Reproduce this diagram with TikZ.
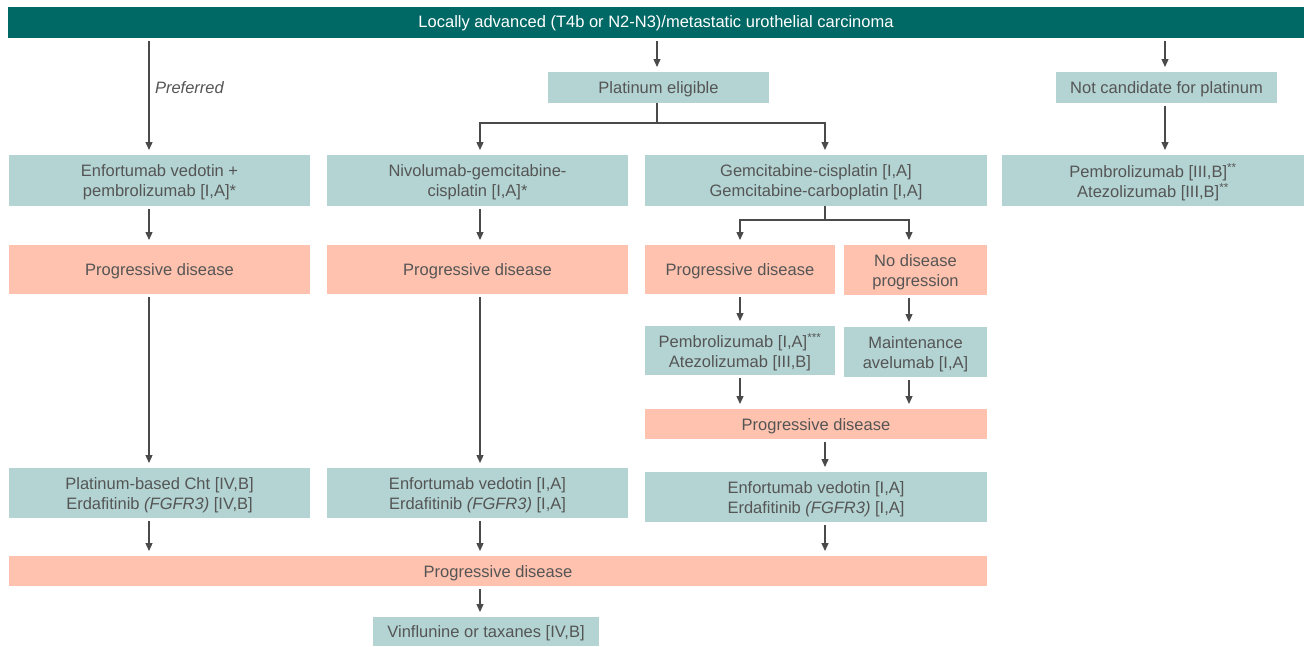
\documentclass[tikz,border=0pt]{standalone}
\usepackage{fontspec}
\setmainfont{Liberation Sans}
\usetikzlibrary{arrows.meta,calc}
\definecolor{darkbar}{HTML}{006865}
\definecolor{tealbox}{HTML}{B3D4D3}
\definecolor{salmon}{HTML}{FFC2AE}
\definecolor{txt}{HTML}{555555}
\definecolor{lin}{HTML}{4A4A4A}
\newcommand\mybox[7]{%
  \node[#2, minimum width={#4-#3}, minimum height={#6-#5}] (#1) at ({(#3+#4)/2},{(#5+#6)/2}) {};
  \node[base, #2txt] (#1-t) at ([yshift=-2pt]#1.center) {#7};}
\begin{document}
\begin{tikzpicture}[x=1pt,y=-1pt,
  font=\fontsize{16.5}{20}\selectfont,
  base/.style={inner sep=0pt, outer sep=0pt, align=center, text=txt},
  treat/.style={base, fill=tealbox},
  prog/.style={base, fill=salmon},
  head/.style={base, fill=darkbar},
  treattxt/.style={}, progtxt/.style={}, headtxt/.style={text=white, yshift=1pt},
  ln/.style={draw=lin, line width=1.3pt},
  arr/.style={ln, -{Triangle[length=8pt,width=7pt]}, shorten >=5pt, shorten <=3pt},
  brarr/.style={ln, -{Triangle[length=8pt,width=7pt]}, shorten >=5pt}]
\useasboundingbox (0,0) rectangle (1304,646);
% columns
\coordinate (c1) at (149,0);
\coordinate (c2) at (480,0);
\coordinate (c3) at (657,0);
\coordinate (c4) at (1165,0);
\coordinate (c5) at (740,0);
\coordinate (c6) at (825,0);
\coordinate (c7) at (909,0);
\coordinate (s1) at (0,123);
\coordinate (s2) at (0,220);
% boxes
\mybox{top}{head}{8}{1304}{7}{38}{Locally advanced (T4b or N2-N3)/metastatic urothelial carcinoma}
\mybox{plat}{treat}{548}{769}{72}{103}{Platinum eligible}
\mybox{notc}{treat}{1056}{1277}{72}{103}{Not candidate for platinum}
\mybox{ev}{treat}{9}{310}{155}{206}{Enfortumab vedotin +\\pembrolizumab [I,A]*}
\mybox{nivo}{treat}{327}{628}{155}{206}{Nivolumab-gemcitabine-\\cisplatin [I,A]*}
\mybox{gem}{treat}{645}{987}{155}{206}{Gemcitabine-cisplatin [I,A]\\Gemcitabine-carboplatin [I,A]}
\mybox{pemR}{treat}{1002}{1304}{155}{206}{Pembrolizumab [III,B]\textsuperscript{**}\\Atezolizumab [III,B]\textsuperscript{**}}
\mybox{pd1}{prog}{9}{310}{245}{294}{Progressive disease}
\mybox{pd2}{prog}{327}{628}{245}{294}{Progressive disease}
\mybox{pd3}{prog}{645}{835}{245}{294}{Progressive disease}
\mybox{nodp}{prog}{844}{987}{245}{295}{No disease\\progression}
\mybox{pem}{treat}{645}{835}{326}{375}{Pembrolizumab [I,A]\textsuperscript{***}\\Atezolizumab [III,B]}
\mybox{mai}{treat}{844}{987}{327}{377}{Maintenance\\avelumab [I,A]}
\mybox{pd4}{prog}{645}{987}{409}{439}{Progressive disease}
\mybox{ev3}{treat}{645}{987}{472}{522}{Enfortumab vedotin [I,A]\\Erdafitinib \textit{(FGFR3)} [I,A]}
\mybox{pbc}{treat}{9}{310}{468}{518}{Platinum-based Cht [IV,B]\\Erdafitinib \textit{(FGFR3)} [IV,B]}
\mybox{ev2}{treat}{327}{628}{468}{518}{Enfortumab vedotin [I,A]\\Erdafitinib \textit{(FGFR3)} [I,A]}
\mybox{pdall}{prog}{9}{987}{556}{586}{Progressive disease}
\mybox{vin}{treat}{373}{599}{617}{646}{Vinflunine or taxanes [IV,B]}
\node[base, anchor=west, font=\fontsize{16.5}{20}\selectfont\itshape] (pref) at (155,88) {Preferred};
% connectors
\draw[arr] (top.south -| c1) -- (ev.north -| c1);
\draw[arr] (top.south -| c3) -- (plat.north -| c3);
\draw[arr] (top.south -| c4) -- (notc.north -| c4);
\draw[ln] (plat.south -| c3) -- (c3 |- s1);
\draw[brarr] (c3 |- s1) -| (nivo.north -| c2);
\draw[brarr] (c3 |- s1) -| (gem.north -| c6);
\draw[arr] (notc.south -| c4) -- (pemR.north -| c4);
\draw[arr] (ev.south -| c1) -- (pd1.north -| c1);
\draw[arr] (nivo.south -| c2) -- (pd2.north -| c2);
\draw[ln] (gem.south -| c6) -- (c6 |- s2);
\draw[brarr] (c6 |- s2) -| (pd3.north -| c5);
\draw[brarr] (c6 |- s2) -| (nodp.north -| c7);
\draw[arr] (pd1.south -| c1) -- (pbc.north -| c1);
\draw[arr] (pd2.south -| c2) -- (ev2.north -| c2);
\draw[arr] (pd3.south -| c5) -- (pem.north -| c5);
\draw[arr] (nodp.south -| c7) -- (mai.north -| c7);
\draw[arr] (pem.south -| c5) -- (pd4.north -| c5);
\draw[arr] (mai.south -| c7) -- (pd4.north -| c7);
\draw[arr] (pd4.south -| c6) -- (ev3.north -| c6);
\draw[arr] (pbc.south -| c1) -- (pdall.north -| c1);
\draw[arr] (ev2.south -| c2) -- (pdall.north -| c2);
\draw[arr] (ev3.south -| c6) -- (pdall.north -| c6);
\draw[arr] (pdall.south -| c2) -- (vin.north -| c2);
\end{tikzpicture}
\end{document}
